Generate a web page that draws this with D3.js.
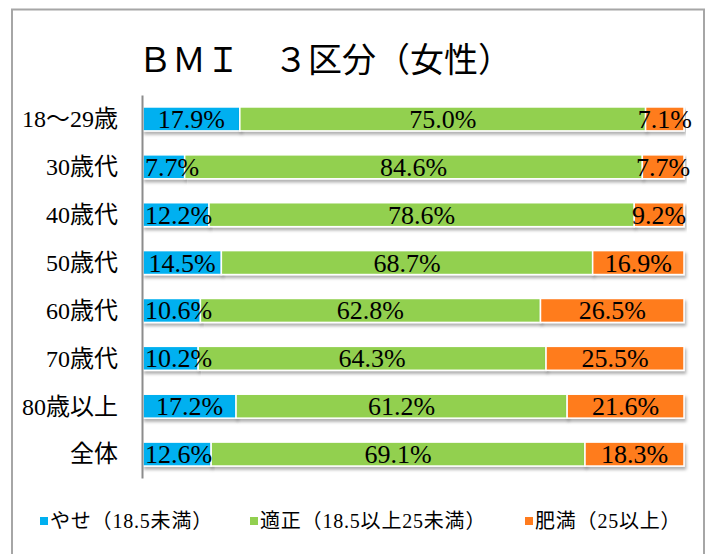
<!DOCTYPE html>
<html>
<head>
<meta charset="utf-8">
<script src="https://cdn.jsdelivr.net/npm/d3@7"></script>
<style>
  body { margin: 0; background: #fff; }
  text { font-family: "Liberation Serif", "Noto Sans CJK JP", serif; fill: #000; }
</style>
</head>
<body>
<div id="chart"></div>
<script>
// categories and series values (percent)
const categories = ['18～29歳', '30歳代', '40歳代', '50歳代', '60歳代', '70歳代', '80歳以上', '全体'];
const yase = [17.9, 7.7, 12.2, 14.5, 10.6, 10.2, 17.2, 12.6];
const tekisei = [75.0, 84.6, 78.6, 68.7, 62.8, 64.3, 61.2, 69.1];
const himan = [7.1, 7.7, 9.2, 16.9, 26.5, 25.5, 21.6, 18.3];
const seriesNames = ['やせ（18.5未満）', '適正（18.5以上25未満）', '肥満（25以上）'];
const seriesKeys = ['yase', 'tekisei', 'himan'];
const colors = ['#00B0F0', '#92D050', '#FF7C1E'];

const width = 713, height = 554;
const margin = {top: 95, right: 29, bottom: 76, left: 143};

const svg = d3.select('#chart').append('svg')
    .attr('width', width)
    .attr('height', height);

// drop shadow under the bars
const defs = svg.append('defs');
defs.append('filter')
    .attr('id', 'shadow')
    .attr('x', '-5%').attr('y', '-30%')
    .attr('width', '110%').attr('height', '180%')
  .append('feDropShadow')
    .attr('dx', 1.5).attr('dy', 3)
    .attr('stdDeviation', 1.6)
    .attr('flood-color', '#000')
    .attr('flood-opacity', 0.3);

// outer frame
svg.append('rect')
    .attr('x', 12).attr('y', 9.5)
    .attr('width', 692).attr('height', 560)
    .attr('fill', '#fff')
    .attr('stroke', '#a6a6a6')
    .attr('stroke-width', 2);

// title
svg.append('text')
    .attr('x', 325).attr('y', 72)
    .attr('text-anchor', 'middle')
    .style('font-size', '34px')
    .text('ＢＭＩ　３区分（女性）');

const table = categories.map((c, i) => ({cat: c, yase: yase[i], tekisei: tekisei[i], himan: himan[i]}));
const stacked = d3.stack().keys(seriesKeys).offset(d3.stackOffsetExpand)(table);

const x = d3.scaleLinear().domain([0, 1]).range([margin.left, width - margin.right]);
const y = d3.scaleBand().domain(categories)
    .range([margin.top, height - margin.bottom])
    .paddingInner(0.5).paddingOuter(0.25);

// bars
const layers = svg.append('g').selectAll('g')
    .data(stacked)
  .join('g')
    .attr('fill', (d, i) => colors[i]);

layers.selectAll('rect')
    .data(d => d)
  .join('rect')
    .attr('x', d => x(d[0]))
    .attr('y', d => y(d.data.cat))
    .attr('width', d => x(d[1]) - x(d[0]))
    .attr('height', y.bandwidth())
    .attr('stroke', '#fff')
    .attr('stroke-width', 1.5)
    .attr('filter', 'url(#shadow)');

// value labels (kept inside the left edge of the plot, like the original)
const labels = svg.append('g');
stacked.forEach((layer, li) => {
  labels.selectAll(null)
      .data(layer)
    .join('text')
      .attr('x', d => (x(d[0]) + x(d[1])) / 2)
      .attr('y', d => y(d.data.cat) + y.bandwidth() / 2 + 9)
      .attr('text-anchor', 'middle')
      .style('font-size', '26px')
      .text(d => d.data[seriesKeys[li]].toFixed(1) + '%')
      .each(function() {
        const w = this.getComputedTextLength();
        const cx = +this.getAttribute('x');
        if (cx - w / 2 < margin.left + 2) this.setAttribute('x', margin.left + 2 + w / 2);
      });
});

// category axis
const yAxis = d3.axisLeft(y).tickSize(0).tickPadding(24);
const yAxisG = svg.append('g')
    .attr('transform', `translate(${margin.left - 1},0)`)
    .call(yAxis);
yAxisG.select('.domain')
    .attr('stroke', '#8c8c8c')
    .attr('stroke-width', 2);
yAxisG.selectAll('text')
    .style('font-size', '24px')
    .style('font-family', '"Liberation Serif", "Noto Sans CJK JP", serif')
    .attr('dy', '0.35em');

// legend
const legendX = [40, 250, 525];
const legend = svg.append('g').selectAll('g')
    .data(seriesNames)
  .join('g')
    .attr('transform', (d, i) => `translate(${legendX[i]},521)`);

legend.append('rect')
    .attr('x', 0).attr('y', -4)
    .attr('width', 8).attr('height', 8)
    .attr('fill', (d, i) => colors[i]);

legend.append('text')
    .attr('x', 10).attr('y', 7)
    .style('font-size', '20px')
    .style('letter-spacing', '0.8px')
    .text(d => d);
</script>
</body>
</html>
